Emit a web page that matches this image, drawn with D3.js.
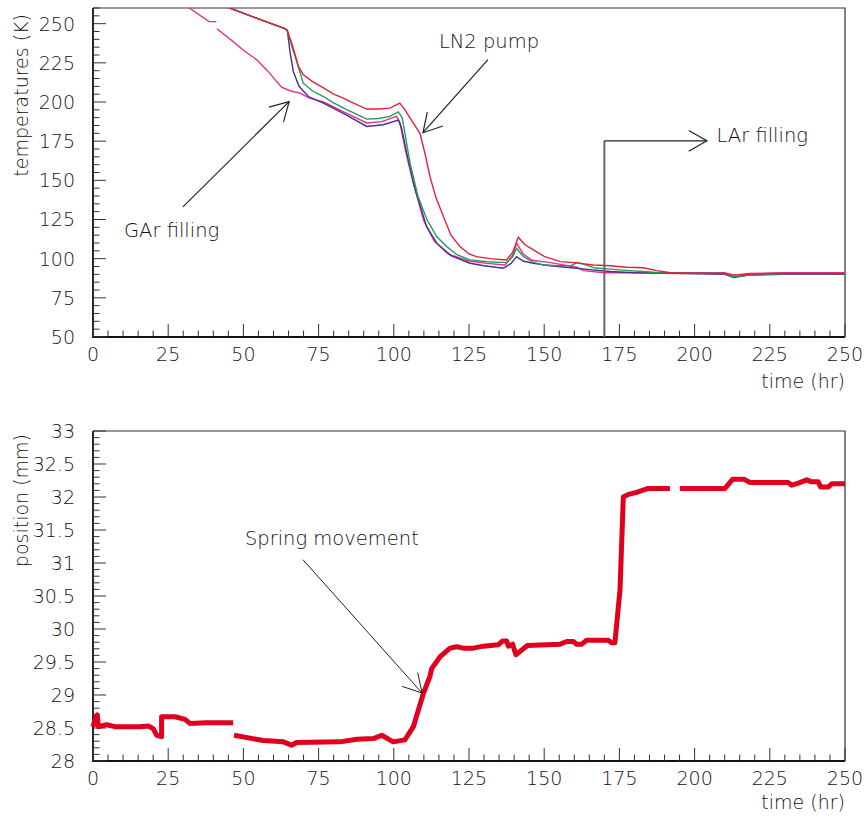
<!DOCTYPE html>
<html><head><meta charset="utf-8">
<script src="https://cdn.jsdelivr.net/npm/d3@7"></script>
<style>
body{margin:0;background:#fff}
text{font-family:"DejaVu Sans","Liberation Sans",sans-serif;font-weight:300;fill:#111}
</style>
</head><body>
<svg id="c" width="866" height="817"></svg>
<script>
// ---------- DATA ----------
// top panel: temperatures (K) vs time (hr)
const redTime  = [40,44,63.8,64.6,66.5,68.3,69.9,73,76.6,80,83.2,87,91,95,98.7,102,103.7,106,108.7,110.5,112,114,116.5,119,122,125,127.5,132,137.5,139.5,141.4,143.5,146.4,150,155.3,160,166.3,172,177.4,183,187.4,192,200,210,213,218,225,235,250];
const redTemp  = [264,261,246.8,245.7,235,222.7,217.4,213,209,205,202.5,199,195.5,195.5,196.1,199.3,195,188,180,166,152.6,139,126.9,115,107.7,103,101.3,100,99.2,104,113.7,109,105.6,101.5,98.1,97.5,96,95.5,94.5,94.2,92.4,91,90.8,90.5,89.5,90,90.5,90.5,90.5];

const greenTime = [40,44,63.8,64.6,66,67.7,69.9,73,76.6,80,84,91,95,98.7,101.5,102.8,105.4,108,111,114.3,117.6,121,125.3,131,137.5,139.5,140.8,143,146,149.7,155,159,160.8,163,167,171.9,177,183,188,200,210,213,218,230,250];
const greenTemp = [264,261,246.8,245.7,236,226,212,207,203.5,199.5,195.5,189.1,189.5,190.8,193.7,190,161,140,125,114,107.7,102.5,99.2,98,97.5,101,106.6,101.5,98,96,95.5,95.5,97.5,96.5,94,93.3,92.5,91.8,91,90.8,90.5,88.5,89.5,90.3,90.3];

const purpleTime = [40,44,63.8,64.6,65.5,66.6,68.5,71.6,76.6,84,91,96.5,101.5,102.5,104.3,107,110.9,114.3,119,125.3,130,136.4,139,140.8,143,146.4,152,160.8,165,171.9,180,195,210,213,218,230,250];
const purpleTemp = [264,261,246.8,245.7,232,219.5,210,203.5,199.3,192,184.4,185.5,188.4,184,167.4,145,120.4,109.9,102,97.1,95.5,93.9,97,101.3,98.5,97,95.5,93.9,93,91.8,91,90.5,90,88,89.5,90,90];

const pinkTime = [30,32,38.6,41,null,41.2,46.5,50,54.4,58,62.7,65.5,68.8,72,76.6,84,91,96,100.9,102,104,106.5,110,113.5,118,125,131,137,139.5,140.8,143,146,152,160.8,163,170,180,195,210,213,218,230,250];
const pinkTemp = [264,260,251.3,251.3,null,246.8,238.7,233,227,220,209.5,207.2,205.7,202.5,200,193,186.6,187.5,190.8,187,168,148,124,111,103,98.5,97,96,102,109.9,103,99,97.5,94.6,92.4,91,91,91,91,89.5,90.5,91,91];

// bottom panel: position (mm) vs time (hr); null = gap in data
const posTime = [0,0.5,1.4,1.8,4.5,7.3,15.6,18.4,20,21.2,22.8,22.8,27.3,30.6,32.2,37.8,46.6,null,
  46.9,56.6,63.3,66,67.7,82.1,87.7,93.2,96,99.8,103.7,106.5,109.8,112,112.6,115.4,118.7,120.9,123.1,126.4,129.8,134.7,136.2,137.5,138.1,139.5,140.6,144.4,155.3,157.5,159.7,160.8,162.5,164.1,171.3,172.4,173.5,175.2,176.3,178,180.7,184.6,191.8,null,
  195.1,204,210.1,212.7,216.4,218.4,231.1,232.3,234.5,237.3,238.9,241.1,241.9,244.4,245.6,250];
const posValue = [28.52,28.6,28.70,28.52,28.55,28.52,28.52,28.53,28.49,28.39,28.37,28.67,28.67,28.63,28.57,28.58,28.58,null,
  28.39,28.31,28.29,28.24,28.28,28.29,28.33,28.34,28.39,28.29,28.32,28.52,29.02,29.28,29.40,29.58,29.71,29.73,29.71,29.71,29.74,29.76,29.82,29.82,29.74,29.77,29.61,29.75,29.77,29.81,29.81,29.77,29.77,29.83,29.83,29.79,29.79,30.59,32.0,32.04,32.07,32.13,32.13,null,
  32.13,32.13,32.13,32.27,32.27,32.22,32.22,32.18,32.21,32.26,32.23,32.23,32.15,32.15,32.2,32.2];

// tick labels
const timeTicks = [0,25,50,75,100,125,150,175,200,225,250];
const tempTicks = [50,75,100,125,150,175,200,225,250];
const posTicks  = [28,28.5,29,29.5,30,30.5,31,31.5,32,32.5,33];

// annotations (in data coordinates)
const gArArrow    = {from:[29.9,133.1], to:[65.2,200.2], label:"GAr filling", at:[10.3,113.8]};
const ln2Arrow    = {from:[131.3,227], to:[109.7,180.4], label:"LN2 pump", at:[115,234.2]};
const lArArrow    = {corner:[170,175.2], to:[204.1,175.2], base:50, label:"LAr filling", at:[207.3,175.2]};
const springArrow = {from:[69.8,31.05], to:[109.4,29.03], label:"Spring movement", at:[50.5,31.28]};

// ---------- DRAW ----------
const svg = d3.select("#c");
const x = d3.scaleLinear().domain([0,250]).range([93,845]);
const yT = d3.scaleLinear().domain([50,260]).range([337,8]);
const yP = d3.scaleLinear().domain([28,33]).range([761,431]);

function zip(ts, vs){ return ts.map((t,i)=>[t,vs[i]]); }

function frame(y, yMajor, yMinor, fmt, ytitle, ytitleEnd, xLabelBase, xtitleBase){
  const y0 = y.range()[0], y1 = y.range()[1];
  const g = svg.append("g");
  g.append("path").attr("d",`M93,${y1}H845V${y0}`).attr("fill","none").attr("stroke","#333").attr("stroke-width",1.2);
  g.append("path").attr("d",`M93,${y1}V${y0}H845`).attr("fill","none").attr("stroke","#111").attr("stroke-width",1.8);
  const xMinor = d3.range(0,251,5);
  g.selectAll(".xt").data(xMinor).join("line")
    .attr("x1",d=>x(d)).attr("x2",d=>x(d))
    .attr("y1",y0).attr("y2",d=>y0-(d%25===0?13:6.5))
    .attr("stroke","#333").attr("stroke-width",1);
  g.selectAll(".xl").data(timeTicks).join("text")
    .attr("x",d=>x(d)).attr("y",xLabelBase).attr("text-anchor","middle")
    .style("font-size","19px").text(d=>d);
  g.selectAll(".ytm").data(yMinor).join("line")
    .attr("x1",93).attr("x2",d=>93+(yMajor.some(m=>Math.abs(m-d)<1e-6)?13:6.5))
    .attr("y1",d=>y(d)).attr("y2",d=>y(d))
    .attr("stroke","#333").attr("stroke-width",1);
  g.selectAll(".yl").data(yMajor).join("text")
    .attr("x",75).attr("y",d=>y(d)).attr("dy","0.36em").attr("text-anchor","end")
    .style("font-size","19px").text(fmt);
  g.append("text").attr("x",845).attr("y",xtitleBase).attr("text-anchor","end")
    .style("font-size","19px").text("time (hr)");
  g.append("text").attr("transform",`translate(28,${ytitleEnd}) rotate(-90)`)
    .attr("text-anchor","end").style("font-size","19px").text(ytitle);
}

frame(yT, tempTicks, d3.range(50,261,5), d=>d, "temperatures (K)", 14, 361, 388);
frame(yP, posTicks, d3.range(0,51).map(i=>28+i*0.1), d=>d, "position (mm)", 434, 785, 809);

svg.append("clipPath").attr("id","clipT").append("rect").attr("x",93).attr("y",8).attr("width",752).attr("height",329);

const lineT = d3.line().defined(d=>d[0]!==null && d[1]!==null).x(d=>x(d[0])).y(d=>yT(d[1]));
const series = [
  {t:pinkTime, v:pinkTemp, c:"#e4308c"},
  {t:purpleTime, v:purpleTemp, c:"#4e2a92"},
  {t:greenTime, v:greenTemp, c:"#1f9e55"},
  {t:redTime, v:redTemp, c:"#e4203c"}
];
const gT = svg.append("g").attr("clip-path","url(#clipT)");
series.forEach(s=>{
  gT.append("path").datum(zip(s.t,s.v)).attr("d",lineT)
    .attr("fill","none").attr("stroke",s.c).attr("stroke-width",1.4);
});

const lineP = d3.line().defined(d=>d[0]!==null && d[1]!==null).x(d=>x(d[0])).y(d=>yP(d[1]));
svg.append("path").datum(zip(posTime,posValue)).attr("d",lineP)
  .attr("fill","none").attr("stroke","#e0001e").attr("stroke-width",5)
  .attr("stroke-linejoin","round");

function arrow(p1, p2, color, w){
  const [x1,y1]=p1,[x2,y2]=p2;
  svg.append("line").attr("x1",x1).attr("y1",y1).attr("x2",x2).attr("y2",y2)
    .attr("stroke",color).attr("stroke-width",w);
  const a = Math.atan2(y1-y2, x1-x2), L=21, da=0.52;
  const w1=[x2+L*Math.cos(a+da), y2+L*Math.sin(a+da)];
  const w2=[x2+L*Math.cos(a-da), y2+L*Math.sin(a-da)];
  svg.append("path").attr("d",`M${w1}L${x2},${y2}L${w2}`).attr("fill","none")
    .attr("stroke",color).attr("stroke-width",w);
}
function annText(pt, label, y){
  svg.append("text").attr("x",x(pt[0])).attr("y",y(pt[1])).style("font-size","19.5px").text(label);
}
arrow([x(gArArrow.from[0]),yT(gArArrow.from[1])],[x(gArArrow.to[0]),yT(gArArrow.to[1])],"#222",1.2);
annText(gArArrow.at, gArArrow.label, yT);
arrow([x(ln2Arrow.from[0]),yT(ln2Arrow.from[1])],[x(ln2Arrow.to[0]),yT(ln2Arrow.to[1])],"#222",1.2);
annText(ln2Arrow.at, ln2Arrow.label, yT);
svg.append("line").attr("x1",x(lArArrow.corner[0])).attr("x2",x(lArArrow.corner[0]))
  .attr("y1",yT(lArArrow.base)).attr("y2",yT(lArArrow.corner[1]))
  .attr("stroke","#666").attr("stroke-width",2);
arrow([x(lArArrow.corner[0]),yT(lArArrow.corner[1])],[x(lArArrow.to[0]),yT(lArArrow.to[1])],"#222",1.2);
svg.append("text").attr("x",x(lArArrow.at[0])).attr("y",yT(lArArrow.at[1])+1)
  .style("font-size","19.5px").text(lArArrow.label);
arrow([x(springArrow.from[0]),yP(springArrow.from[1])],[x(springArrow.to[0]),yP(springArrow.to[1])],"#222",1);
annText(springArrow.at, springArrow.label, yP);
</script>
</body></html>
